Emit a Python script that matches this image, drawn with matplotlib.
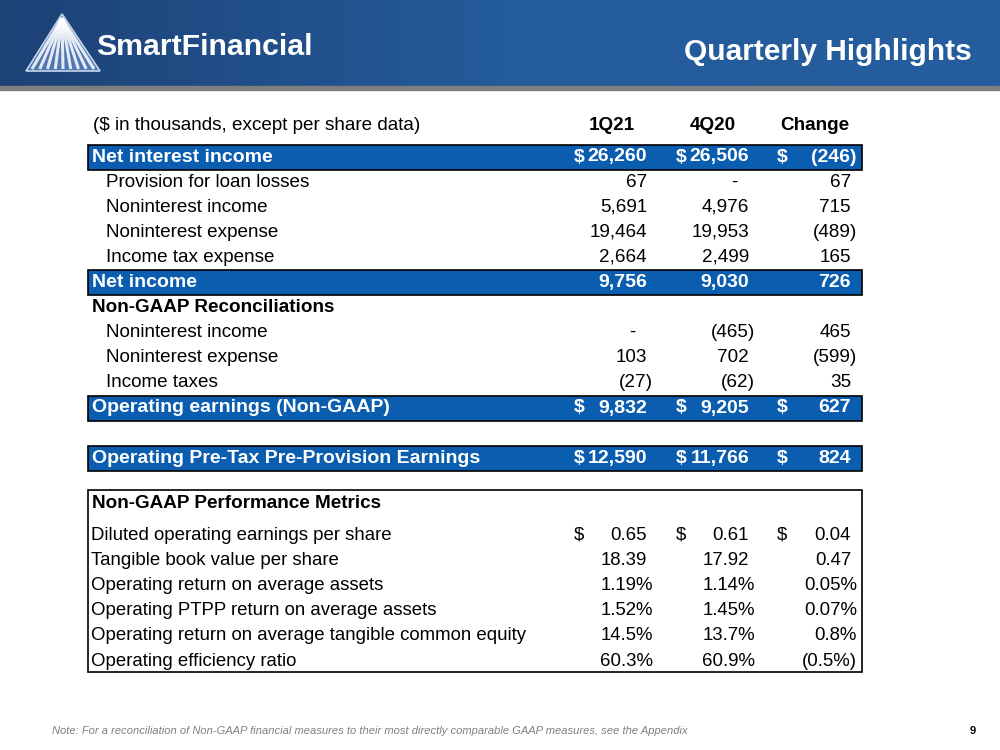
import numpy as np
import matplotlib
matplotlib.use('Agg')
import matplotlib.pyplot as plt
from matplotlib.patches import Rectangle, Polygon

plt.rcParams['font.family'] = ['Liberation Sans', 'DejaVu Sans']

# 表格数据
col_heads = ['1Q21', '4Q20', 'Change']
row_labels = ['Net interest income', 'Provision for loan losses', 'Noninterest income',
              'Noninterest expense', 'Income tax expense', 'Net income',
              'Non-GAAP Reconciliations', 'Noninterest income', 'Noninterest expense',
              'Income taxes', 'Operating earnings (Non-GAAP)', None,
              'Operating Pre-Tax Pre-Provision Earnings']
row_kind = ['blue', 'item', 'item', 'item', 'item', 'blue', 'section',
            'item', 'item', 'item', 'blue', 'gap', 'blue']
val_1q21 = ['$26,260', '67', '5,691', '19,464', '2,664', '9,756', '',
            '-', '103', '(27)', '$9,832', '', '$12,590']
val_4q20 = ['$26,506', '-', '4,976', '19,953', '2,499', '9,030', '',
            '(465)', '702', '(62)', '$9,205', '', '$11,766']
val_chg = ['$(246)', '67', '715', '(489)', '165', '726', '',
           '465', '(599)', '35', '$627', '', '$824']

metric_labels = ['Diluted operating earnings per share', 'Tangible book value per share',
                 'Operating return on average assets', 'Operating PTPP return on average assets',
                 'Operating return on average tangible common equity', 'Operating efficiency ratio']
metric_1q21 = ['$0.65', '18.39', '1.19%', '1.52%', '14.5%', '60.3%']
metric_4q20 = ['$0.61', '17.92', '1.14%', '1.45%', '13.7%', '60.9%']
metric_chg = ['$0.04', '0.47', '0.05%', '0.07%', '0.8%', '(0.5%)']

BLUE = '#0b5db0'
FS = 13.6      # 普通文字
FSB = 14       # 蓝色条内粗体
FSM = 13.4     # 指标框

fig = plt.figure(figsize=(10, 7.5), dpi=100)
ax = fig.add_axes([0, 0, 1, 1])

# 顶部渐变色横幅
grad = np.linspace(0, 1, 256).reshape(1, -1)
cmap = matplotlib.colors.LinearSegmentedColormap.from_list('hdr', ['#1d4276', '#245b9b', '#255d9e'])
ax.imshow(grad, extent=[0, 1000, 86, 0], cmap=cmap, aspect='auto', zorder=0)
ax.add_patch(Rectangle((0, 86), 1000, 4, color='#7f7f7f', zorder=1))
ax.set_xlim(0, 1000)
ax.set_ylim(750, 0)
ax.axis('off')

# logo
tri = Polygon([(26, 71), (62, 14), (100, 71)], closed=True, fc='#4f77b3', ec='#c8d4e8', lw=1.2, zorder=2)
ax.add_patch(tri)
for bx in np.linspace(32, 94, 9):
    ax.plot([62, bx], [18, 69], color='white', lw=2.2, alpha=0.85, zorder=3, solid_capstyle='butt')
ax.text(96, 47, 'SmartFinancial', color='white', fontsize=21.8, fontweight='bold',
        ha='left', va='center', zorder=4)
ax.text(972, 52, 'Quarterly Highlights', color='white', fontsize=21.5, fontweight='bold',
        ha='right', va='center', zorder=4)

# 列位置
dollar_x = [574, 676, 777]
right_x = [647, 749, 851]
X0, X1 = 88, 862


def put_value(s, ci, y, color, weight, fs):
    if s == '':
        return
    if s.startswith('$'):
        ax.text(dollar_x[ci], y, '$', color=color, fontweight=weight, fontsize=fs, ha='left', va='center')
        s = s[1:]
    rx = right_x[ci]
    if s.endswith(')') or s.endswith('%'):
        rx += 6
    if s == '-':
        rx -= 12
    ax.text(rx, y, s, color=color, fontweight=weight, fontsize=fs, ha='right', va='center')


ax.text(93, 126, '($ in thousands, except per share data)', fontsize=FS, ha='left', va='center')
for ci, h in enumerate(col_heads):
    ax.text([612, 713, 815][ci], 126, h, fontsize=FS, fontweight='bold', ha='center', va='center')

y0 = 157
pitch = 25.1
for i, lab in enumerate(row_labels):
    y = y0 + i * pitch
    kind = row_kind[i]
    if kind == 'gap':
        continue
    if kind == 'blue':
        ax.add_patch(Rectangle((X0, y - 12.5), X1 - X0, 25, fc=BLUE, ec='black', lw=1.2, zorder=1))
        color, weight, lx, fs = 'white', 'bold', 92, FSB
    elif kind == 'section':
        color, weight, lx, fs = 'black', 'bold', 92, FS
    else:
        color, weight, lx, fs = 'black', 'normal', 106, FS
    ax.text(lx, y, lab, color=color, fontweight=weight, fontsize=fs, ha='left', va='center', zorder=3)
    for ci, vals in enumerate([val_1q21, val_4q20, val_chg]):
        put_value(vals[i], ci, y, color, weight, fs)

# 业绩指标框
ax.add_patch(Rectangle((X0, 490), X1 - X0, 182, fc='none', ec='black', lw=1.2))
ax.text(92, 504, 'Non-GAAP Performance Metrics', fontsize=FS, fontweight='bold', ha='left', va='center')
for i, lab in enumerate(metric_labels):
    y = 535 + i * 25.2
    ax.text(91, y, lab, fontsize=FSM, ha='left', va='center')
    for ci, vals in enumerate([metric_1q21, metric_4q20, metric_chg]):
        put_value(vals[i], ci, y, 'black', 'normal', FSM)

# 页脚
ax.text(52, 731, 'Note: For a reconciliation of Non-GAAP financial measures to their most directly comparable GAAP measures, see the Appendix',
        fontsize=8, style='italic', color='#7f7f7f', ha='left', va='center')
ax.text(976, 731, '9', fontsize=8, fontweight='bold', ha='right', va='center')

fig.savefig('out.png', dpi=100)
